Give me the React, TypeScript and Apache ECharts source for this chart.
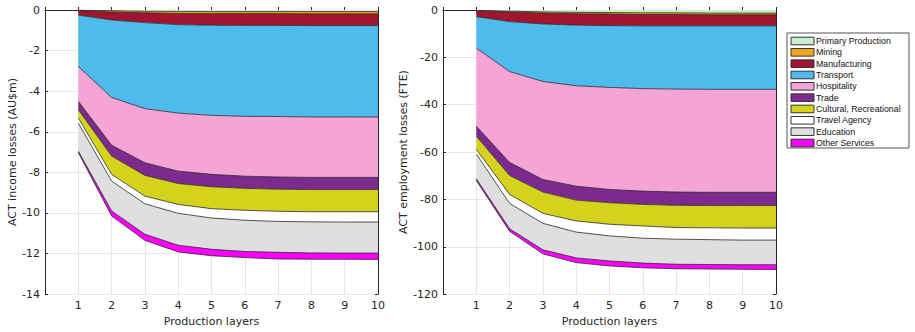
import React, { useEffect, useRef } from "react";
import * as echarts from "echarts";

const layers = ["0", "1", "2", "3", "4", "5", "6", "7", "8", "9", "10"];
const sectors = [
  "Primary Production",
  "Mining",
  "Manufacturing",
  "Transport",
  "Hospitality",
  "Trade",
  "Cultural, Recreational",
  "Travel Agency",
  "Education",
  "Other Services",
];
const sectorColors = [
  "#c9f0cb",
  "#f5a41f",
  "#a3142e",
  "#4dbbec",
  "#f4a5d5",
  "#7c2a8d",
  "#d5d21d",
  "#ffffff",
  "#dfdfdf",
  "#ff00ff",
];

const incomeTicks = { min: -14, max: 0, interval: 2 };
const employmentTicks = { min: -120, max: 0, interval: 20 };

// ACT income losses (AU$m), layers 1..10
const incomePrimary = [-0.01, -0.04, -0.06, -0.07, -0.08, -0.08, -0.08, -0.08, -0.08, -0.08];
const incomeMining = [-0.01, -0.06, -0.08, -0.1, -0.1, -0.1, -0.1, -0.11, -0.11, -0.11];
const incomeManufacturing = [-0.23, -0.39, -0.48, -0.55, -0.57, -0.58, -0.58, -0.58, -0.58, -0.58];
const incomeTransport = [-2.53, -3.82, -4.24, -4.36, -4.44, -4.48, -4.49, -4.5, -4.5, -4.5];
const incomeHospitality = [-1.72, -2.35, -2.67, -2.86, -2.91, -2.95, -2.98, -2.98, -2.98, -2.98];
const incomeTrade = [-0.41, -0.54, -0.62, -0.61, -0.61, -0.6, -0.6, -0.6, -0.6, -0.6];
const incomeCultural = [-0.41, -0.9, -1.02, -1.03, -1.08, -1.08, -1.09, -1.09, -1.09, -1.09];
const incomeTravel = [-0.25, -0.33, -0.38, -0.44, -0.46, -0.49, -0.5, -0.5, -0.51, -0.51];
const incomeEducation = [-1.39, -1.47, -1.5, -1.57, -1.54, -1.54, -1.52, -1.53, -1.53, -1.53];
const incomeOther = [-0.06, -0.25, -0.3, -0.33, -0.32, -0.3, -0.33, -0.31, -0.3, -0.31];

// ACT employment losses (FTE), layers 1..10
const empPrimary = [-0.2, -0.5, -0.8, -1.0, -1.1, -1.2, -1.2, -1.3, -1.3, -1.3];
const empMining = [-0.1, -0.3, -0.5, -0.6, -0.6, -0.7, -0.7, -0.7, -0.7, -0.7];
const empManufacturing = [-2.5, -4.1, -4.6, -4.8, -4.9, -4.8, -4.8, -4.7, -4.7, -4.7];
const empTransport = [-13.3, -21.1, -24.3, -25.6, -26.1, -26.5, -26.7, -26.8, -26.8, -26.8];
const empHospitality = [-33.0, -38.4, -41.4, -42.4, -43.1, -43.3, -43.5, -43.5, -43.5, -43.5];
const empTrade = [-4.2, -5.5, -5.3, -5.9, -5.6, -5.6, -5.6, -5.6, -5.6, -5.6];
const empCultural = [-5.6, -8.0, -9.0, -8.8, -9.1, -9.1, -9.4, -9.4, -9.5, -9.5];
const empTravel = [-1.9, -3.8, -4.2, -4.7, -4.9, -5.2, -4.9, -5.0, -5.1, -5.1];
const empEducation = [-10.5, -10.7, -11.2, -10.9, -10.6, -10.5, -10.6, -10.5, -10.4, -10.4];
const empOther = [-0.7, -1.1, -1.7, -2.0, -2.1, -2.0, -1.9, -1.9, -1.9, -2.0];

const incomeSeries = [
  incomePrimary, incomeMining, incomeManufacturing, incomeTransport, incomeHospitality,
  incomeTrade, incomeCultural, incomeTravel, incomeEducation, incomeOther,
];
const empSeries = [
  empPrimary, empMining, empManufacturing, empTransport, empHospitality,
  empTrade, empCultural, empTravel, empEducation, empOther,
];

const FONT = "DejaVu Sans";
const LEGEND_FONT = "Liberation Sans";
const TEXT = "#262626";
const AXIS = "#262626";

function App() {
  const ref = useRef<HTMLDivElement>(null);
  useEffect(() => {
    document.body.style.margin = "0";
    if (!ref.current) return;
    const chart = echarts.init(ref.current, null, { renderer: "svg" });

    const grids = [
      { left: 45, top: 10, width: 333, height: 285 },
      { left: 443, top: 10, width: 333, height: 285 },
    ];

    const xAxes: any[] = [];
    const yAxes: any[] = [];
    [0, 1].forEach((g) => {
      xAxes.push({
        type: "category",
        gridIndex: g,
        data: layers,
        boundaryGap: false,
        position: "bottom",
        name: "Production layers",
        nameLocation: "middle",
        nameGap: 20,
        nameTextStyle: { fontFamily: FONT, fontSize: 11, color: TEXT },
        axisLine: { show: true, lineStyle: { color: AXIS, width: 1 } },
        axisTick: { show: true, inside: true, length: 3, interval: 0, lineStyle: { color: AXIS } },
        axisLabel: {
          interval: 0,
          margin: 6,
          fontFamily: FONT,
          fontSize: 11,
          color: TEXT,
          formatter: (v: string) => (v === "0" ? "" : v),
        },
        splitLine: { show: true, interval: 0, lineStyle: { color: "#e6e6e6", width: 1 } },
      });
      xAxes.push({
        type: "category",
        gridIndex: g,
        data: layers,
        boundaryGap: false,
        position: "top",
        axisLine: { show: true, lineStyle: { color: AXIS, width: 1 } },
        axisTick: { show: true, inside: true, length: 3, interval: 0, lineStyle: { color: AXIS } },
        axisLabel: { show: false },
        splitLine: { show: false },
      });
      const t = g === 0 ? incomeTicks : employmentTicks;
      yAxes.push({
        type: "value",
        gridIndex: g,
        position: "left",
        min: t.min,
        max: t.max,
        interval: t.interval,
        name: g === 0 ? "ACT income losses (AU$m)" : "ACT employment losses (FTE)",
        nameLocation: "middle",
        nameGap: g === 0 ? 27 : 32,
        nameTextStyle: { fontFamily: FONT, fontSize: 11, color: TEXT },
        axisLine: { show: true, lineStyle: { color: AXIS, width: 1 } },
        axisTick: { show: true, inside: true, length: 3, lineStyle: { color: AXIS } },
        axisLabel: { margin: 5, fontFamily: FONT, fontSize: 11, color: TEXT },
        splitLine: { show: true, lineStyle: { color: "#e6e6e6", width: 1 } },
      });
      yAxes.push({
        type: "value",
        gridIndex: g,
        position: "right",
        min: t.min,
        max: t.max,
        interval: t.interval,
        axisLine: { show: true, lineStyle: { color: AXIS, width: 1 } },
        axisTick: { show: true, inside: true, length: 3, lineStyle: { color: AXIS } },
        axisLabel: { show: false },
        splitLine: { show: false },
      });
    });

    const series: any[] = [];
    const build = (arrs: number[][], g: number) => {
      arrs.forEach((vals, i) => {
        series.push({
          type: "line",
          name: sectors[i],
          xAxisIndex: g * 2,
          yAxisIndex: g * 2,
          stack: g === 0 ? "income" : "employment",
          symbol: "none",
          data: [null, ...vals],
          lineStyle: { color: "#2a2a2a", width: 0.8 },
          itemStyle: { color: sectorColors[i] },
          areaStyle: { color: sectorColors[i], opacity: 1 },
          z: 2,
        });
      });
    };
    build(incomeSeries, 0);
    build(empSeries, 1);

    const lx = 787, ly = 33, rowH = 11.33;
    const legendChildren: any[] = [
      {
        type: "rect",
        shape: { x: lx, y: ly, width: 122, height: 115 },
        style: { fill: "#ffffff", stroke: "#555555", lineWidth: 1 },
      },
    ];
    sectors.forEach((s, i) => {
      const cy = ly + 8 + i * rowH;
      legendChildren.push({
        type: "rect",
        shape: { x: lx + 4, y: cy - 3.8, width: 23, height: 7.6 },
        style: { fill: sectorColors[i], stroke: "#333333", lineWidth: 1 },
      });
      legendChildren.push({
        type: "text",
        x: lx + 29,
        y: cy,
        style: {
          text: s,
          fontFamily: LEGEND_FONT,
          fontSize: 8.8,
          fill: "#111111",
          verticalAlign: "middle",
          align: "left",
        },
      });
    });

    chart.setOption({
      animation: false,
      backgroundColor: "#ffffff",
      grid: grids,
      xAxis: xAxes,
      yAxis: yAxes,
      series,
      graphic: [{ type: "group", children: legendChildren }],
    });
    return () => chart.dispose();
  }, []);
  return <div ref={ref} style={{ width: 915, height: 332 }} />;
}

export default App;
